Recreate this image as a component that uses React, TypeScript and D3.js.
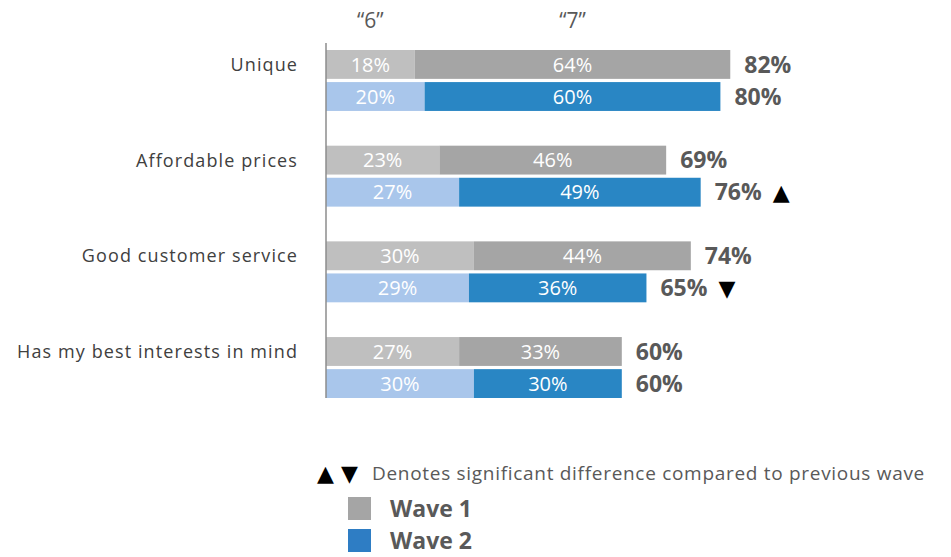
import React, { useEffect, useRef } from 'react';
import * as d3 from 'd3';

// data
const categories = ['Unique', 'Affordable prices', 'Good customer service', 'Has my best interests in mind'];
const waves = ['Wave 1', 'Wave 2'];
const topBoxHeaders = ['\u201C6\u201D', '\u201C7\u201D'];
const wave1Six = [18, 23, 30, 27];
const wave1Seven = [64, 46, 44, 33];
const wave1Total = [82, 69, 74, 60];
const wave2Six = [20, 27, 29, 30];
const wave2Seven = [60, 49, 36, 30];
const wave2Total = [80, 76, 65, 60];
// significance vs previous wave: 1 up, -1 down, 0 none
const wave2Sig = [0, 1, -1, 0];

const width = 951;
const height = 557;

const App: React.FC = () => {
    const svgRef = useRef<SVGSVGElement>(null);

    useEffect(() => {
        if (!svgRef.current) return;
        const svg = d3.select(svgRef.current);
        svg.selectAll('*').remove();

        const x = d3.scaleLinear().domain([0, 100]).range([326, 819]);
        const y0 = d3.scaleBand<string>().domain(categories).range([50, 398]).paddingInner(0.363);
        const y1 = d3.scaleBand<string>().domain(waves).range([0, y0.bandwidth()]).paddingInner(0.1);

        const labelFont = "'Open Sans', sans-serif";
        const textGray = '#595959';

        const colors: Record<string, [string, string]> = {
            'Wave 1': ['#bfbfbf', '#a5a5a5'],
            'Wave 2': ['#a9c6eb', '#2986c4'],
        };

        const rows = categories.flatMap((c, i) => [
            { cat: c, wave: 'Wave 1', six: wave1Six[i], seven: wave1Seven[i], total: wave1Total[i], sig: 0 },
            { cat: c, wave: 'Wave 2', six: wave2Six[i], seven: wave2Seven[i], total: wave2Total[i], sig: wave2Sig[i] },
        ]);

        // headers "6" and "7"
        const headerAt = [9, 50];
        svg.append('g')
            .selectAll('text')
            .data(topBoxHeaders)
            .enter()
            .append('text')
            .attr('x', (_, i) => x(headerAt[i]))
            .attr('y', 28)
            .attr('text-anchor', 'middle')
            .style('font-family', labelFont)
            .style('font-size', '21px')
            .style('fill', textGray)
            .text(d => d);

        const g = svg.append('g');
        const row = g.selectAll('.row')
            .data(rows)
            .enter()
            .append('g')
            .attr('transform', d => `translate(0,${y0(d.cat)! + y1(d.wave)!})`);

        const bh = y1.bandwidth();

        row.append('rect')
            .attr('x', x(0))
            .attr('width', d => x(d.six) - x(0))
            .attr('height', bh)
            .style('fill', d => colors[d.wave][0]);

        row.append('rect')
            .attr('x', d => x(d.six))
            .attr('width', d => x(d.six + d.seven) - x(d.six))
            .attr('height', bh)
            .style('fill', d => colors[d.wave][1]);

        row.append('text')
            .attr('x', d => (x(0) + x(d.six)) / 2)
            .attr('y', bh / 2)
            .attr('dy', '0.36em')
            .attr('text-anchor', 'middle')
            .style('font-family', labelFont)
            .style('font-size', '20px')
            .style('fill', '#fff')
            .text(d => `${d.six}%`);

        row.append('text')
            .attr('x', d => (x(d.six) + x(d.six + d.seven)) / 2)
            .attr('y', bh / 2)
            .attr('dy', '0.36em')
            .attr('text-anchor', 'middle')
            .style('font-family', labelFont)
            .style('font-size', '20px')
            .style('fill', '#fff')
            .text(d => `${d.seven}%`);

        row.append('text')
            .attr('x', d => x(d.six + d.seven) + 14)
            .attr('y', bh / 2)
            .attr('dy', '0.36em')
            .style('font-family', labelFont)
            .style('font-size', '23px')
            .style('font-weight', 'bold')
            .style('fill', textGray)
            .text(d => `${d.total}%`);

        row.filter(d => d.sig !== 0)
            .append('text')
            .attr('x', d => x(d.six + d.seven) + 72)
            .attr('y', bh / 2)
            .attr('dy', '0.36em')
            .style('font-family', "'DejaVu Sans', sans-serif")
            .style('font-size', '22px')
            .style('fill', '#000')
            .text(d => (d.sig > 0 ? '\u25B2' : '\u25BC'));

        // category labels
        g.selectAll('.cat')
            .data(categories)
            .enter()
            .append('text')
            .attr('x', 298)
            .attr('y', d => y0(d)! + y1('Wave 1')! + bh / 2)
            .attr('dy', '0.36em')
            .attr('text-anchor', 'end')
            .style('font-family', labelFont)
            .style('font-size', '18px')
            .style('letter-spacing', '1.1px')
            .style('fill', '#404040')
            .text(d => d);

        // vertical axis line
        g.append('line')
            .attr('x1', x(0)).attr('x2', x(0))
            .attr('y1', 43).attr('y2', 398)
            .style('stroke', '#8c8c8c')
            .style('stroke-width', 1.5);

        // legend
        const lg = svg.append('g');
        lg.selectAll('.tri')
            .data(['\u25B2', '\u25BC'])
            .enter()
            .append('text')
            .attr('x', (_, i) => 317 + i * 24)
            .attr('y', 481)
            .style('font-family', "'DejaVu Sans', sans-serif")
            .style('font-size', '22px')
            .style('fill', '#000')
            .text(d => d);
        lg.append('text')
            .attr('x', 372)
            .attr('y', 480)
            .style('font-family', labelFont)
            .style('font-size', '19px')
            .style('letter-spacing', '0.7px')
            .style('fill', textGray)
            .text('Denotes significant difference compared to previous wave');

        const items = lg.selectAll('.item')
            .data(waves)
            .enter()
            .append('g')
            .attr('transform', (_, i) => `translate(348,${497 + i * 32})`);
        items.append('rect')
            .attr('width', 23)
            .attr('height', 23)
            .style('fill', (d, i) => (i === 0 ? '#a5a5a5' : '#2e7dc4'));
        items.append('text')
            .attr('x', 42)
            .attr('y', 12)
            .attr('dy', '0.34em')
            .style('font-family', labelFont)
            .style('font-size', '23px')
            .style('font-weight', 'bold')
            .style('fill', textGray)
            .text(d => d);
    }, []);

    return <svg ref={svgRef} width={width} height={height} style={{ position: 'absolute', left: 0, top: 0 }} />;
};

export default App;
